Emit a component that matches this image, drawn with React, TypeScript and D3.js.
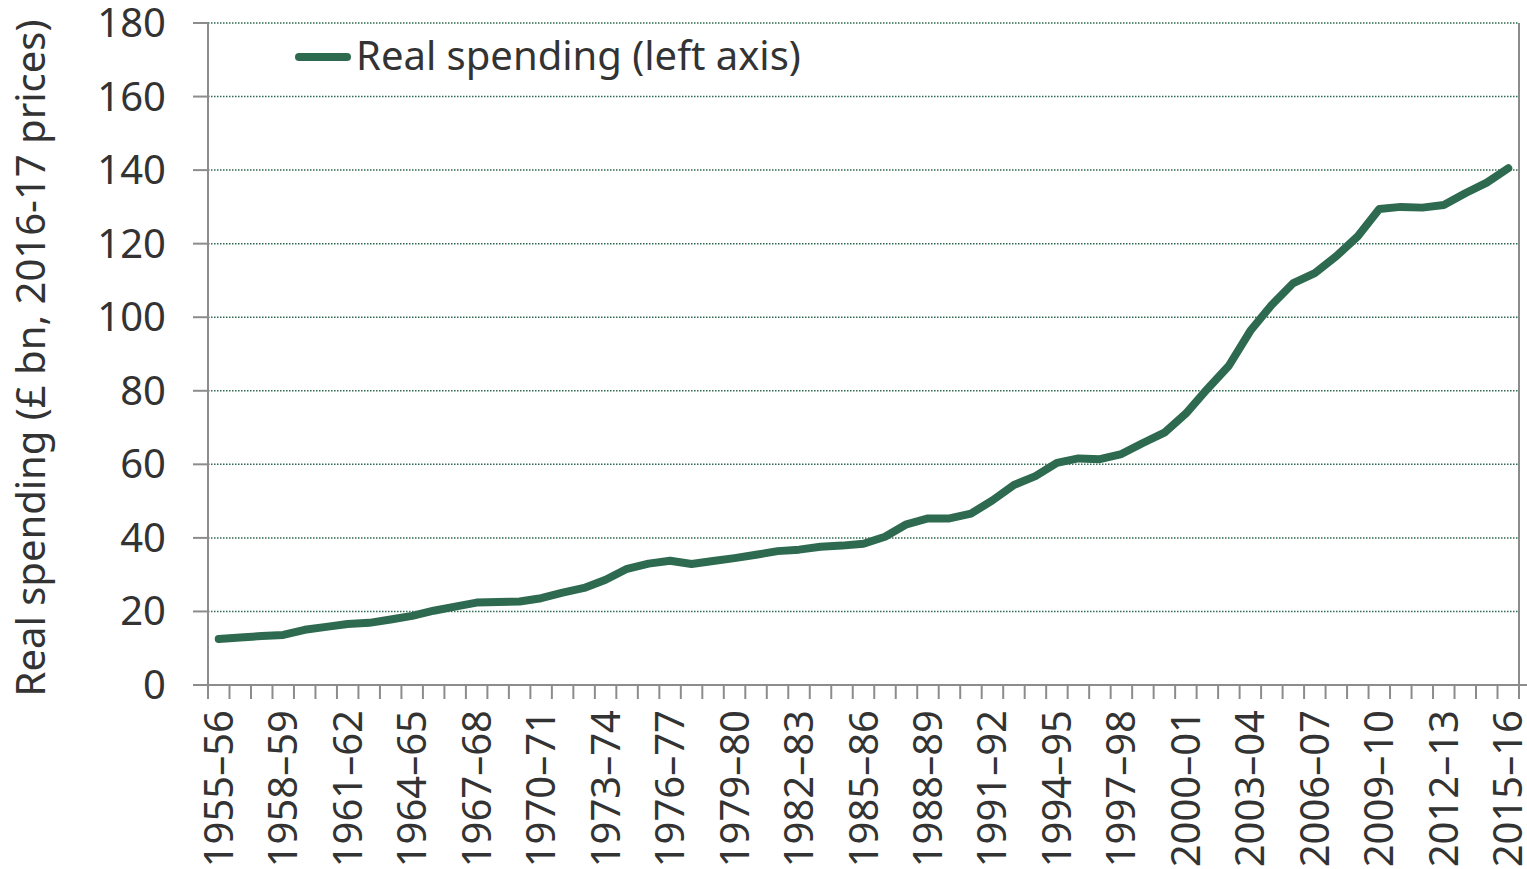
import { useEffect, useRef } from "react";
import * as d3 from "d3";

const years = [
  "1955–56", "1956–57", "1957–58", "1958–59", "1959–60", "1960–61", "1961–62", "1962–63",
  "1963–64", "1964–65", "1965–66", "1966–67", "1967–68", "1968–69", "1969–70", "1970–71",
  "1971–72", "1972–73", "1973–74", "1974–75", "1975–76", "1976–77", "1977–78", "1978–79",
  "1979–80", "1980–81", "1981–82", "1982–83", "1983–84", "1984–85", "1985–86", "1986–87",
  "1987–88", "1988–89", "1989–90", "1990–91", "1991–92", "1992–93", "1993–94", "1994–95",
  "1995–96", "1996–97", "1997–98", "1998–99", "1999–00", "2000–01", "2001–02", "2002–03",
  "2003–04", "2004–05", "2005–06", "2006–07", "2007–08", "2008–09", "2009–10", "2010–11",
  "2011–12", "2012–13", "2013–14", "2014–15", "2015–16",
];

const realSpending = [
  12.5, 12.9, 13.3, 13.6, 15.0, 15.8, 16.6, 16.9, 17.8, 18.8,
  20.2, 21.3, 22.4, 22.6, 22.7, 23.6, 25.1, 26.4, 28.6, 31.6,
  33.0, 33.8, 32.9, 33.7, 34.5, 35.4, 36.4, 36.8, 37.6, 37.9,
  38.4, 40.3, 43.7, 45.3, 45.3, 46.6, 50.2, 54.4, 56.8, 60.4,
  61.6, 61.4, 62.8, 65.8, 68.6, 73.8, 80.5, 86.8, 96.3, 103.4,
  109.3, 112.0, 116.6, 122.0, 129.4, 130.0, 129.8, 130.5, 133.7, 136.6,
  140.5,
];

const yTicks = [0, 20, 40, 60, 80, 100, 120, 140, 160, 180];

const seriesName = "Real spending (left axis)";
const yTitle = "Real spending (£ bn, 2016-17 prices)";

const W = 1527;
const H = 869;
const font = "'Noto Sans', 'Open Sans', sans-serif";
const fontSize = "40px";
const green = "#2e6a4f";
const textColor = "#333333";
const axisColor = "#8c8c8c";

function App() {
  const svgRef = useRef<SVGSVGElement | null>(null);

  useEffect(() => {
    const svg: any = d3.select(svgRef.current);
    svg.selectAll("*").remove();

    const left = 208;
    const right = 1519;
    const top = 23;
    const bottom = 685;

    const x = d3.scaleBand().domain(years).range([left, right]).padding(0);
    const y = d3.scaleLinear().domain([0, 180]).range([bottom, top]);

    // dotted gridlines
    svg
      .append("g")
      .selectAll("line")
      .data(yTicks.filter((t) => t > 0))
      .enter()
      .append("line")
      .attr("x1", left)
      .attr("x2", right)
      .attr("y1", (d: number) => y(d))
      .attr("y2", (d: number) => y(d))
      .attr("stroke", green)
      .attr("stroke-width", 1.5)
      .attr("stroke-dasharray", "1.5,1.5");

    // y axis
    const yAxis = svg.append("g");
    yAxis
      .append("line")
      .attr("x1", left)
      .attr("x2", left)
      .attr("y1", top)
      .attr("y2", bottom)
      .attr("stroke", axisColor)
      .attr("stroke-width", 2);
    yAxis
      .selectAll(".tick")
      .data(yTicks)
      .enter()
      .append("line")
      .attr("x1", left - 15)
      .attr("x2", left)
      .attr("y1", (d: number) => y(d))
      .attr("y2", (d: number) => y(d))
      .attr("stroke", axisColor)
      .attr("stroke-width", 2);
    yAxis
      .selectAll("text")
      .data(yTicks)
      .enter()
      .append("text")
      .attr("x", 166)
      .attr("y", (d: number) => y(d))
      .attr("dy", "0.35em")
      .attr("text-anchor", "end")
      .style("font-family", font)
      .style("font-size", fontSize)
      .style("fill", textColor)
      .text((d: number) => d);

    // right axis line
    svg
      .append("line")
      .attr("x1", right)
      .attr("x2", right)
      .attr("y1", top)
      .attr("y2", bottom + 14)
      .attr("stroke", axisColor)
      .attr("stroke-width", 2);

    // x axis
    const xAxis = svg.append("g");
    xAxis
      .append("line")
      .attr("x1", left - 15)
      .attr("x2", right + 8)
      .attr("y1", bottom)
      .attr("y2", bottom)
      .attr("stroke", axisColor)
      .attr("stroke-width", 2);
    const bounds = years.map((d) => x(d) as number).concat([right]);
    xAxis
      .selectAll(".xt")
      .data(bounds)
      .enter()
      .append("line")
      .attr("x1", (d: number) => d)
      .attr("x2", (d: number) => d)
      .attr("y1", bottom)
      .attr("y2", bottom + 14)
      .attr("stroke", axisColor)
      .attr("stroke-width", 2);
    xAxis
      .selectAll("text")
      .data(years.filter((_, i) => i % 3 === 0))
      .enter()
      .append("text")
      .attr("transform", (d: string) => {
        const cx = (x(d) as number) + x.bandwidth() / 2;
        return `translate(${cx}, 710) rotate(-90)`;
      })
      .attr("dy", "0.35em")
      .attr("text-anchor", "end")
      .style("font-family", font)
      .style("font-size", fontSize)
      .style("fill", textColor)
      .text((d: string) => d);

    // y title
    svg
      .append("text")
      .attr("transform", `translate(31, 358) rotate(-90)`)
      .attr("dy", "0.35em")
      .attr("text-anchor", "middle")
      .style("font-family", font)
      .style("font-size", fontSize)
      .style("fill", textColor)
      .text(yTitle);

    // series line
    const line: any = d3
      .line<number>()
      .x((_, i) => (x(years[i]) as number) + x.bandwidth() / 2)
      .y((d) => y(d));

    svg
      .append("path")
      .datum(realSpending)
      .attr("d", line)
      .attr("fill", "none")
      .attr("stroke", green)
      .attr("stroke-width", 8)
      .attr("stroke-linecap", "round")
      .attr("stroke-linejoin", "round");

    // legend
    svg
      .append("line")
      .attr("x1", 299)
      .attr("x2", 347)
      .attr("y1", 57)
      .attr("y2", 57)
      .attr("stroke", green)
      .attr("stroke-width", 8)
      .attr("stroke-linecap", "round");
    svg
      .append("text")
      .attr("x", 356)
      .attr("y", 56)
      .attr("dy", "0.35em")
      .style("font-family", font)
      .style("font-size", fontSize)
      .style("fill", textColor)
      .text(seriesName);
  }, []);

  return (
    <svg
      ref={svgRef}
      width={W}
      height={H}
      style={{ position: "absolute", left: 0, top: 0, background: "#ffffff" }}
    ></svg>
  );
}

export default App;
